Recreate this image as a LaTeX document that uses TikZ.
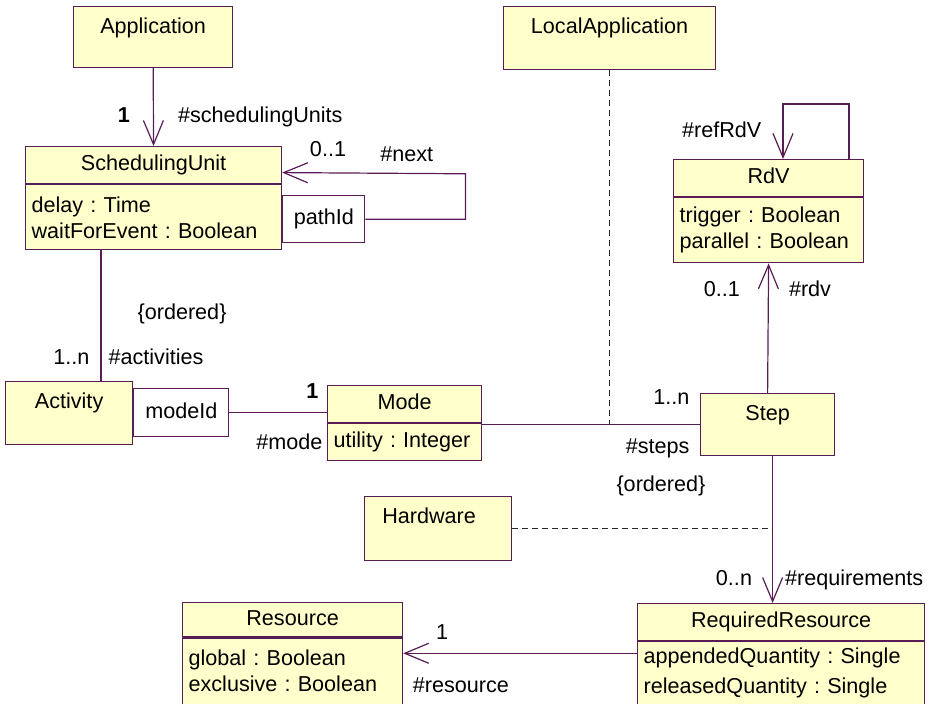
\documentclass[tikz,border=0pt]{standalone}
\usepackage{fontspec}
\setmainfont{Liberation Sans}
\usetikzlibrary{arrows.meta}
\usetikzlibrary{calc}
\usetikzlibrary{positioning}

\definecolor{umlline}{RGB}{88,28,86}
\definecolor{umlfill}{RGB}{255,255,204}

\frenchspacing

\tikzset{
  classname/.style={draw=umlline, fill=umlfill, line width=.6pt, text height=8pt, text depth=2.5pt, inner xsep=3pt, minimum height=18.5pt},
  classattr/.style={draw=umlline, fill=umlfill, line width=.6pt, align=left, inner xsep=3pt, inner ysep=0pt},
  namebox/.style={draw=umlline, fill=umlfill, line width=.6pt, text height=8pt, text depth=#1, inner ysep=5.4pt},
  qualifier/.style={draw=umlline, fill=white, line width=.6pt, text height=8pt, text depth=2.5pt},
  assoc/.style={draw=umlline, line width=.6pt, -{Straight Barb[length=12pt,width=10pt]},
    every node/.style={inner sep=0pt, text height=8pt, text depth=2.5pt}},
  assocline/.style={draw=umlline, line width=.6pt,
    every node/.style={inner sep=0pt, text height=8pt, text depth=2.5pt}},
  depline/.style={draw=black!85, line width=.6pt, dash pattern=on 3pt off 2pt}
}

\begin{document}
\begin{tikzpicture}[x=0.5pt, y=-0.5pt, font=\fontsize{10.8}{13}\selectfont]
  \useasboundingbox (0,0) rectangle (931,704);

  % classes
  \node [namebox=11.7pt, minimum width=79.5pt, anchor=north west] (app) at (73,6) {Application};
  \node [namebox=12.7pt, minimum width=106pt, anchor=north west] (localapp) at (503,6) {LocalApplication};

  \node [classname, minimum width=128pt, anchor=north west] (suname) at (25,146) {SchedulingUnit};
  \node [classattr, below=0pt of suname, text width=122pt, minimum height=32.5pt] (suattr)
    {delay : Time\\waitForEvent : Boolean};
  \node [qualifier, below right=5.5pt and 0pt of suattr.north east, minimum width=41pt, minimum height=23.5pt] (pathid) {pathId};

  \node [classname, minimum width=95pt, anchor=north west] (rdvname) at (673,159) {RdV};
  \node [classattr, below=0pt of rdvname, text width=89pt, minimum height=32.5pt] (rdvattr)
    {trigger : Boolean\\parallel : Boolean};

  \node [namebox=12.7pt, minimum width=63.5pt, anchor=north west] (act) at (5,381) {Activity};
  \node [qualifier, below right=3.5pt and 0pt of act.north east, minimum width=47.5pt, minimum height=24pt] (modeid) {modeId};

  \node [classname, minimum width=77pt, anchor=north west] (modename) at (327,385) {Mode};
  \node [classattr, below=0pt of modename, text width=71pt, minimum height=18.5pt] (modeattr)
    {utility : Integer};

  \node [namebox=12.2pt, minimum width=67pt, anchor=north west] (step) at (700,393) {Step};
  \node [namebox=13.2pt, minimum width=73.5pt, anchor=north west] (hw) at (364,496) {Hardware\hspace*{9pt}};

  \node [classname, minimum width=110pt, minimum height=17pt, anchor=north west] (resname) at (182,602) {Resource};
  \node [classattr, below=0pt of resname, text width=104pt, minimum height=33pt] (resattr)
    {global : Boolean\\exclusive : Boolean};

  \node [classname, minimum width=143.5pt, anchor=north west] (rrname) at (637,603) {RequiredResource};
  \node [classattr, below=0pt of rrname, text width=137.5pt, minimum height=31.5pt,
    font=\fontsize{10.8}{15}\selectfont] (rrattr)
    {appendedQuantity : Single\\releasedQuantity : Single};

  % associations
  \draw [assoc] (app) -- node[pos=.63, left=11.5pt] {\textbf{1}}
    node[pos=.63, right=12pt] {\#schedulingUnits} (suname);

  \draw [assoc] (pathid.east) -- ++(100,0) -- ++(0,-45.5)
    -- node[pos=.75, above=5.5pt] {0..1} node[pos=.32, above=3pt] {\#next}
    ([yshift=-3.75pt]suname.east);

  \coordinate (ordtop) at ($(suattr.south west)+(76,0)$);
  \draw [assocline] (ordtop) -- node[pos=.49, right=18pt] {\{ordered\}}
    node[pos=.83, left=5.5pt] {1..n} node[pos=.83, right=3.5pt] {\#activities}
    (ordtop |- act.north);

  \draw [assocline] (modeid.east) -- node[pos=.85, above=4pt] {\textbf{1}}
    (modeid.east -| modename.west) node[below left=10pt and 2pt] {\#mode};

  \draw [assocline] (step.west) node[above left=7pt and 5pt] {1..n}
    node[below left=6.4pt and 5pt] {\#steps}
    node[below left=25pt and -3pt] {\{ordered\}}
    -- (step.west -| modeattr.east);

  \draw [depline] (localapp.south) -- (localapp.south |- step.west);

  \draw [assoc] (step.north) -- node[pos=.79, left=14pt] {0..1}
    node[pos=.79, right=10pt] {\#rdv} (rdvattr.south);

  \draw [assoc] ([xshift=88pt]rdvname.north west) -- ++(0,-55) -- ++(-66,0)
    -- node[pos=.51, left=10.5pt] {\#refRdV} ([xshift=55pt]rdvname.north west);

  \coordinate (reqtop) at ([xshift=2.5pt]step.south);
  \draw [assoc] (reqtop) -- node[pos=.845, left=10pt] {0..n}
    node[pos=.845, right=6pt] {\#requirements} (reqtop |- rrname.north);

  \draw [depline] (hw.east) -- (hw.east -| reqtop);

  \draw [assoc] ([yshift=10pt]rrattr.west) -- node[pos=.834, above=4pt] {1}
    ([yshift=10pt]rrattr.west -| resattr.east) node[below right=11.4pt and 4.5pt] {\#resource};
\end{tikzpicture}
\end{document}
